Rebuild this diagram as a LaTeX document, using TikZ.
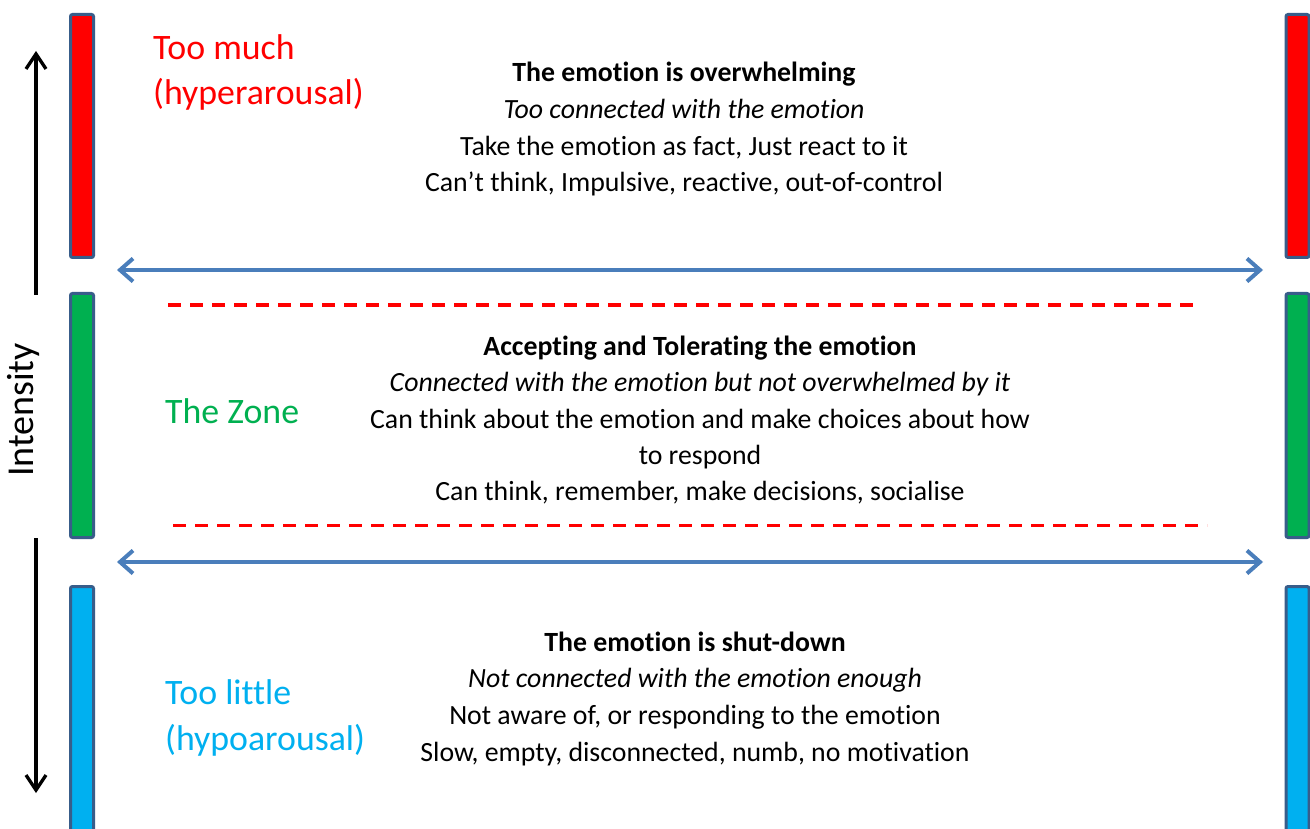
\documentclass[tikz,border=0pt]{standalone}
\usepackage{fontspec}
\setmainfont{Carlito}[Ligatures={NoCommon}]
\usetikzlibrary{arrows.meta}
\definecolor{barline}{RGB}{56,93,138}
\definecolor{arrblue}{RGB}{74,126,187}
\definecolor{zgreen}{RGB}{0,176,80}
\definecolor{lblue}{RGB}{0,176,240}
\definecolor{zred}{RGB}{255,0,0}
\tikzset{
  bar/.style={draw=barline, line width=3pt, rounded corners=2pt, minimum width=23pt, inner sep=0pt},
  bodytext/.style={anchor=base, inner sep=0pt, font=\fontsize{27.8}{36}\selectfont},
  bodybold/.style={bodytext, font=\fontsize{27.8}{36}\selectfont\bfseries},
  bodyital/.style={bodytext, font=\fontsize{27.8}{36}\selectfont\itshape},
  sidelabel/.style={anchor=base west, inner sep=0pt, font=\fontsize{35.8}{42}\selectfont},
  bluearrow/.style={draw=arrblue, line width=4pt, {Straight Barb[length=13pt,width=23pt]}-{Straight Barb[length=13pt,width=23pt]}},
  blackarrow/.style={draw=black, line width=3.3pt, -{Straight Barb[length=15pt,width=20pt]}},
  zonedash/.style={draw=zred, line width=3.5pt, dash pattern=on 12.7pt off 9.3pt},
}
\begin{document}
\begin{tikzpicture}[x=1pt, y=-1pt]
\useasboundingbox (0,0) rectangle (1310,829);
\clip (0,0) rectangle (1310,829);
\fill[white] (0,0) rectangle (1310,829);
% bars
\node[bar, fill=red, minimum height=243pt] (lred) at (82,136) {};
\node[bar, fill=zgreen, minimum height=244pt] (lgreen) at (82,415.5) {};
\node[bar, fill=lblue, minimum height=274pt] (lblue) at (82,723.5) {};
\node[bar, fill=red, minimum height=243pt] (rred) at (1297.5,136) {};
\node[bar, fill=zgreen, minimum height=244pt] (rgreen) at (1297.5,415.5) {};
\node[bar, fill=lblue, minimum height=274pt] (rblue) at (1297.5,723.5) {};
% intensity arrows
\coordinate (upstart) at (36,295);
\coordinate (uptip) at (36,51);
\coordinate (downstart) at (36,538);
\coordinate (downtip) at (36,793);
\draw[blackarrow] (upstart) -- (uptip);
\draw[blackarrow] (downstart) -- (downtip);
\node[anchor=base, inner sep=0pt, rotate=90, font=\fontsize{38}{44}\selectfont] (intensity) at (34,410) {Intensity};
% blue double arrows
\coordinate (b1l) at (117,270);
\coordinate (b1r) at (1263,270);
\coordinate (b2l) at (117,562);
\coordinate (b2r) at (1263,562);
\draw[bluearrow] (b1l) -- (b1r);
\draw[bluearrow] (b2l) -- (b2r);
% dashed lines
\coordinate (d1l) at (168,305);
\coordinate (d1r) at (1201,305);
\coordinate (d2l) at (173,525.5);
\coordinate (d2r) at (1207,525.5);
\draw[zonedash] (d1l) -- (d1r);
\draw[zonedash] (d2l) -- (d2r);
% side labels
\node[sidelabel, text=zred] (much1) at (153,60) {Too much};
\node[sidelabel, text=zred] (much2) at (153,105) {(hyperarousal)};
\node[sidelabel, text=zgreen] (zone) at (165,423) {The Zone};
\node[sidelabel, text=lblue] (little1) at (165,704) {Too little};
\node[sidelabel, text=lblue] (little2) at (165,750) {(hypoarousal)};
% top block
\node[bodybold] (t1) at (684,81.7) {The emotion is overwhelming};
\node[bodyital] (t2) at (684,118.5) {Too connected with the emotion};
\node[bodytext] (t3) at (684,155.3) {Take the emotion as fact, Just react to it};
\node[bodytext] (t4) at (684,192) {Can’t think, Impulsive, reactive, out-of-control};
% middle block
\node[bodybold] (m1) at (700,355) {Accepting and Tolerating the emotion};
\node[bodyital] (m2) at (700,391.5) {Connected with the emotion but not overwhelmed by it};
\node[bodytext] (m3) at (700,428) {Can think about the emotion and make choices about how};
\node[bodytext] (m4) at (700,464) {to respond};
\node[bodytext] (m5) at (700,500) {Can think, remember, make decisions, socialise};
% bottom block
\node[bodybold] (s1) at (695,651) {The emotion is shut-down};
\node[bodyital] (s2) at (695,687.7) {Not connected with the emotion enough};
\node[bodytext] (s3) at (695,724.3) {Not aware of, or responding to the emotion};
\node[bodytext] (s4) at (695,761) {Slow, empty, disconnected, numb, no motivation};
\end{tikzpicture}
\end{document}
